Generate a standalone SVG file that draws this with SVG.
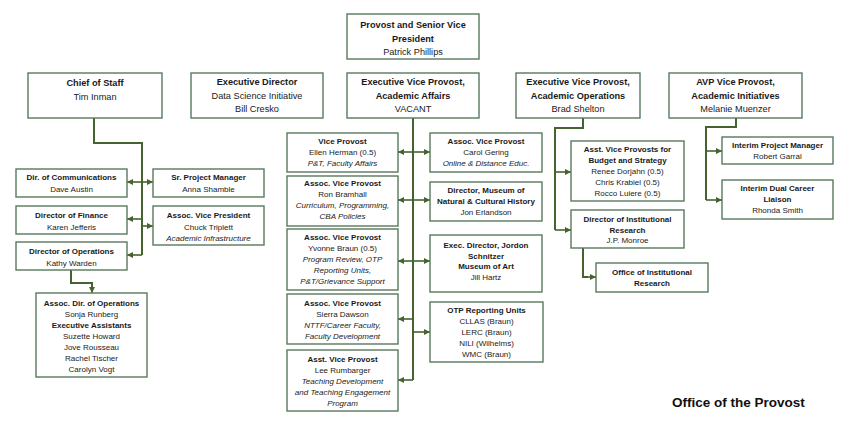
<svg xmlns="http://www.w3.org/2000/svg" width="850" height="430" viewBox="0 0 850 430">
<style>
.box{fill:#fff;stroke:#587a5c;stroke-width:1.4}
.t{font-family:"Liberation Sans",Arial,sans-serif;font-size:8px;fill:#1a1a1a;text-anchor:middle}
.h{font-size:9.2px}
.b{font-weight:bold}
.i{font-style:italic}
.c{fill:none;stroke:#44632e;stroke-width:2}
.ar{fill:none;stroke:#44632e;stroke-width:1.6;marker-end:url(#a)}
</style>
<defs>
<marker id="a" markerWidth="6" markerHeight="6" refX="6" refY="3" orient="auto" markerUnits="userSpaceOnUse"><path d="M0,0 L6,3 L0,6 z" fill="#44632e"/></marker>
</defs>
<rect width="850" height="430" fill="#fff"/>

<g id="connectors">
<path class="c" d="M94,118 V143 H142 V255"/>
<line class="ar" x1="142" y1="182" x2="127" y2="182"/>
<line class="ar" x1="142" y1="182" x2="153" y2="182"/>
<line class="ar" x1="142" y1="219" x2="127" y2="219"/>
<line class="ar" x1="142" y1="226" x2="153" y2="226"/>
<line class="ar" x1="142" y1="255" x2="127" y2="255"/>
<path class="c" d="M71,270 V283 H92 V287" />
<line class="ar" x1="92" y1="286" x2="92" y2="293"/>

<path class="c" d="M413,118 V380"/>
<line class="ar" x1="413" y1="152" x2="398" y2="152"/>
<line class="ar" x1="413" y1="152" x2="430" y2="152"/>
<line class="ar" x1="413" y1="200" x2="398" y2="200"/>
<line class="ar" x1="413" y1="200" x2="430" y2="200"/>
<line class="ar" x1="413" y1="261" x2="398" y2="261"/>
<line class="ar" x1="413" y1="261" x2="430" y2="261"/>
<line class="ar" x1="413" y1="319" x2="398" y2="319"/>
<line class="ar" x1="413" y1="332" x2="430" y2="332"/>
<line class="ar" x1="413" y1="380" x2="398" y2="380"/>

<path class="c" d="M583,118 V128 H555 V230"/>
<line class="ar" x1="555" y1="172" x2="571" y2="172"/>
<line class="ar" x1="555" y1="230" x2="571" y2="230"/>
<path class="c" d="M583,248 V277 H588"/>
<line class="ar" x1="586" y1="277" x2="596" y2="277"/>

<path class="c" d="M736,118 V127 H706 V200"/>
<line class="ar" x1="706" y1="151" x2="722" y2="151"/>
<line class="ar" x1="706" y1="200" x2="722" y2="200"/>
</g>

<g id="provost">
<rect class="box" x="347" y="14" width="132" height="45"/>
<text class="t h b" x="413" y="28">Provost and Senior Vice</text>
<text class="t h b" x="413" y="41.5">President</text>
<text class="t h" x="413" y="55">Patrick Phillips</text>
</g>

<g id="chief">
<rect class="box" x="28" y="73" width="134" height="45"/>
<text class="t h b" x="95" y="86">Chief of Staff</text>
<text class="t h" x="95" y="100">Tim Inman</text>
</g>
<g id="execdir">
<rect class="box" x="191" y="73" width="132" height="45"/>
<text class="t h b" x="257" y="85">Executive Director</text>
<text class="t h" x="257" y="98.5">Data Science Initiative</text>
<text class="t h" x="257" y="112">Bill Cresko</text>
</g>
<g id="evpaa">
<rect class="box" x="347" y="73" width="132" height="45"/>
<text class="t h b" x="413" y="85">Executive Vice Provost,</text>
<text class="t h b" x="413" y="98.5">Academic Affairs</text>
<text class="t h" x="413" y="112">VACANT</text>
</g>
<g id="evpao">
<rect class="box" x="516" y="73" width="124" height="45"/>
<text class="t h b" x="578" y="85">Executive Vice Provost,</text>
<text class="t h b" x="578" y="98.5">Academic Operations</text>
<text class="t h" x="578" y="112">Brad Shelton</text>
</g>
<g id="avp">
<rect class="box" x="669" y="73" width="133" height="45"/>
<text class="t h b" x="735.5" y="85">AVP Vice Provost,</text>
<text class="t h b" x="735.5" y="98.5">Academic Initiatives</text>
<text class="t h" x="735.5" y="112">Melanie Muenzer</text>
</g>

<g id="dircomm">
<rect class="box" x="16" y="169" width="111" height="28"/>
<text class="t b" x="71.5" y="180">Dir. of Communications</text>
<text class="t" x="71.5" y="192">Dave Austin</text>
</g>
<g id="srpm">
<rect class="box" x="153" y="169" width="111" height="28"/>
<text class="t b" x="208.5" y="180">Sr. Project Manager</text>
<text class="t" x="208.5" y="192">Anna Shamble</text>
</g>
<g id="dirfin">
<rect class="box" x="16" y="206" width="111" height="28"/>
<text class="t b" x="71.5" y="218">Director of Finance</text>
<text class="t" x="71.5" y="229.5">Karen Jefferis</text>
</g>
<g id="assocvp">
<rect class="box" x="153" y="206" width="111" height="39"/>
<text class="t b" x="208.5" y="218">Assoc. Vice President</text>
<text class="t" x="208.5" y="229.5">Chuck Triplett</text>
<text class="t i" x="208.5" y="241">Academic Infrastructure</text>
</g>
<g id="dirops">
<rect class="box" x="16" y="242" width="111" height="28"/>
<text class="t b" x="71.5" y="254">Director of Operations</text>
<text class="t" x="71.5" y="265.5">Kathy Warden</text>
</g>
<g id="assocdirops">
<rect class="box" x="36" y="293" width="111" height="84"/>
<text class="t b" x="91.5" y="306">Assoc. Dir. of Operations</text>
<text class="t" x="91.5" y="317">Sonja Runberg</text>
<text class="t b" x="91.5" y="328">Executive Assistants</text>
<text class="t" x="91.5" y="339">Suzette Howard</text>
<text class="t" x="91.5" y="350">Jove Rousseau</text>
<text class="t" x="91.5" y="361">Rachel Tischer</text>
<text class="t" x="91.5" y="372">Carolyn Vogt</text>
</g>

<g id="vpherman">
<rect class="box" x="287" y="133" width="111" height="39"/>
<text class="t b" x="342.5" y="144">Vice Provost</text>
<text class="t" x="342.5" y="155">Ellen Herman (0.5)</text>
<text class="t i" x="342.5" y="166">P&amp;T, Faculty Affairs</text>
</g>
<g id="bramhall">
<rect class="box" x="287" y="176" width="111" height="50"/>
<text class="t b" x="342.5" y="186">Assoc. Vice Provost</text>
<text class="t" x="342.5" y="197">Ron Bramhall</text>
<text class="t i" x="342.5" y="208">Curriculum, Programming,</text>
<text class="t i" x="342.5" y="219">CBA Policies</text>
</g>
<g id="braun">
<rect class="box" x="287" y="229" width="111" height="61"/>
<text class="t b" x="342.5" y="240">Assoc. Vice Provost</text>
<text class="t" x="342.5" y="251">Yvonne Braun (0.5)</text>
<text class="t i" x="342.5" y="262">Program Review, OTP</text>
<text class="t i" x="342.5" y="273">Reporting Units,</text>
<text class="t i" x="342.5" y="284">P&amp;T/Grievance Support</text>
</g>
<g id="dawson">
<rect class="box" x="287" y="294" width="111" height="50"/>
<text class="t b" x="342.5" y="306">Assoc. Vice Provost</text>
<text class="t" x="342.5" y="317">Sierra Dawson</text>
<text class="t i" x="342.5" y="328">NTTF/Career Faculty,</text>
<text class="t i" x="342.5" y="339">Faculty Development</text>
</g>
<g id="rumbarger">
<rect class="box" x="287" y="350" width="111" height="61"/>
<text class="t b" x="342.5" y="362">Asst. Vice Provost</text>
<text class="t" x="342.5" y="373">Lee Rumbarger</text>
<text class="t i" x="342.5" y="384">Teaching Development</text>
<text class="t i" x="342.5" y="395">and Teaching Engagement</text>
<text class="t i" x="342.5" y="406">Program</text>
</g>

<g id="gering">
<rect class="box" x="430" y="133" width="112" height="39"/>
<text class="t b" x="486" y="144">Assoc. Vice Provost</text>
<text class="t" x="486" y="155">Carol Gering</text>
<text class="t i" x="486" y="166">Online &amp; Distance Educ.</text>
</g>
<g id="museumnch">
<rect class="box" x="430" y="182" width="112" height="39"/>
<text class="t b" x="486" y="193">Director, Museum of</text>
<text class="t b" x="486" y="204">Natural &amp; Cultural History</text>
<text class="t" x="486" y="215">Jon Erlandson</text>
</g>
<g id="jsma">
<rect class="box" x="430" y="235" width="112" height="57"/>
<text class="t b" x="486" y="248">Exec. Director, Jordon</text>
<text class="t b" x="486" y="258.5">Schnitzer</text>
<text class="t b" x="486" y="269">Museum of Art</text>
<text class="t" x="486" y="279.5">Jill Hartz</text>
</g>
<g id="otp">
<rect class="box" x="430" y="302" width="113" height="60"/>
<text class="t b" x="486.5" y="313">OTP Reporting Units</text>
<text class="t" x="486.5" y="324">CLLAS (Braun)</text>
<text class="t" x="486.5" y="335">LERC (Braun)</text>
<text class="t" x="486.5" y="346">NILI (Wilhelms)</text>
<text class="t" x="486.5" y="357">WMC (Braun)</text>
</g>

<g id="budget">
<rect class="box" x="571" y="141" width="113" height="60"/>
<text class="t b" x="627.5" y="152">Asst. Vice Provosts for</text>
<text class="t b" x="627.5" y="163">Budget and Strategy</text>
<text class="t" x="627.5" y="174">Renee Dorjahn (0.5)</text>
<text class="t" x="627.5" y="185">Chris Krabiel (0.5)</text>
<text class="t" x="627.5" y="196">Rocco Luiere (0.5)</text>
</g>
<g id="dirir">
<rect class="box" x="571" y="210" width="113" height="38"/>
<text class="t b" x="627.5" y="222">Director of Institutional</text>
<text class="t b" x="627.5" y="232.5">Research</text>
<text class="t" x="627.5" y="243">J.P. Monroe</text>
</g>
<g id="officeir">
<rect class="box" x="596" y="263" width="112" height="29"/>
<text class="t b" x="652" y="275">Office of Institutional</text>
<text class="t b" x="652" y="286">Research</text>
</g>

<g id="interimpm">
<rect class="box" x="722" y="137" width="111" height="27"/>
<text class="t b" x="777.5" y="148">Interim Project Manager</text>
<text class="t" x="777.5" y="159">Robert Garral</text>
</g>
<g id="interimdual">
<rect class="box" x="722" y="180" width="111" height="39"/>
<text class="t b" x="777.5" y="191">Interim Dual Career</text>
<text class="t b" x="777.5" y="202">Liaison</text>
<text class="t" x="777.5" y="213">Rhonda Smith</text>
</g>

<text x="672" y="407" style="font-family:'Liberation Sans',Arial,sans-serif;font-size:13.5px;font-weight:bold;fill:#111">Office of the Provost</text>
</svg>
